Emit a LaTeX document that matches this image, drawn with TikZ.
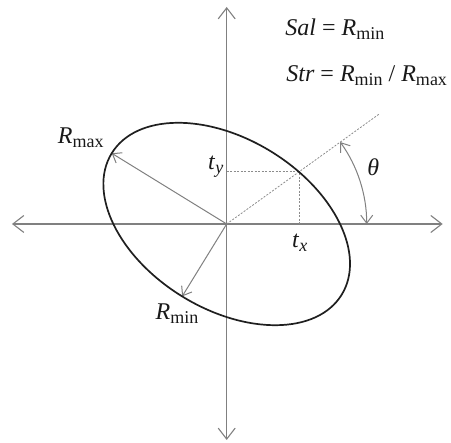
\documentclass[tikz,border=0pt]{standalone}
\usepackage{fontspec}
\setmainfont{Liberation Serif}
\usetikzlibrary{arrows.meta}
\newcommand{\lowsub}[1]{\raisebox{-0.16em}{\fontsize{18}{18}\selectfont #1}}
\begin{document}
\begin{tikzpicture}[x=1pt,y=1pt,
  axis/.style={draw=black!50,line width=1.1pt,{Straight Barb[length=11pt,width=17pt]}-{Straight Barb[length=11pt,width=17pt]}},
  radvec/.style={draw=black!50,line width=1pt,-{Straight Barb[length=8pt,width=12pt]}},
  anglearc/.style={draw=black!50,line width=1pt,{Straight Barb[length=8pt,width=12pt]}-{Straight Barb[length=8pt,width=12pt]}},
  guide/.style={draw=black!45,line width=0.8pt,dash pattern=on 2pt off 1.5pt},
  lab/.style={inner sep=0pt,text=black!90,font=\fontsize{24}{28}\selectfont}]
\useasboundingbox (-226.7,-219) rectangle (224.3,224);
\coordinate (O) at (0,0);
\coordinate (L) at (-214.7,0);
\coordinate (Rt) at (216,0);
\coordinate (T) at (0,217);
\coordinate (B) at (0,-216);
\draw[axis] (L) -- (Rt);
\draw[axis] (B) -- (T);
\coordinate (P) at (35.8:89.1);
\coordinate (D) at (35.8:189);
\coordinate (Py) at (0,0 |- P);
\coordinate (Px) at (P |- O);
\draw[guide] (O) -- (D);
\draw[guide] (Py) -- (P) -- (Px);
\coordinate (Amax) at (148.4:135);
\coordinate (Amin) at (238.4:85);
\draw[radvec] (O) -- (Amax);
\draw[radvec] (O) -- (Amin);
\draw[black!88,line width=1.7pt,rotate=-31.6] (O) ellipse [x radius=135,y radius=85];
\coordinate (A0) at (0:140);
\draw[anglearc] (A0) arc[start angle=0,end angle=35.8,radius=140pt];
\node[lab] (theta) at (146.6,56.5) {\textit{θ}};
\node[lab] (ty) at (-11,57) {\textit{t}\lowsub{\textit{y}}};
\node[lab] (tx) at (73,-18.7) {\textit{t}\lowsub{\textit{x}}};
\node[lab] (rmax) at (-146,86) {\textit{R}\lowsub{max}};
\node[lab] (rmin) at (-49.7,-90) {\textit{R}\lowsub{min}};
\node[lab,anchor=base west] (sal) at (58.5,188.3) {\textit{Sal} = \textit{R}\lowsub{min}};
\node[lab,anchor=base west] (str) at (59.5,142.3) {\textit{Str} = \textit{R}\lowsub{min} / \textit{R}\lowsub{max}};
\end{tikzpicture}
\end{document}
